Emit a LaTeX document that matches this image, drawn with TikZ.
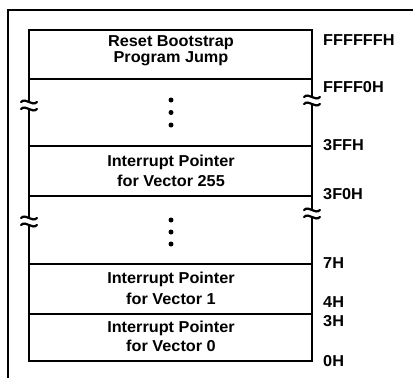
\documentclass[tikz,border=0pt]{standalone}
\usepackage{fontspec}
\setmainfont{Liberation Sans}
\newfontfamily\memfont{Liberation Sans}[FakeStretch=1.03]
\begin{document}
\begin{tikzpicture}[x=1pt,y=-1pt,
  frame/.style={line width=2pt},
  divider/.style={line width=1.6pt},
  celltext/.style={font=\memfont\bfseries\fontsize{15.8}{16.5}\selectfont,align=center,inner sep=0pt},
  addr/.style={font=\memfont\bfseries\fontsize{15.8}{18}\selectfont,anchor=west,inner sep=0pt},
  dotmark/.style={fill=black,circle,inner sep=0pt,minimum size=5pt},
  brk/.pic={
    \fill[white] (-3,-3) rectangle (3,3);
    \draw[line width=2.2pt,line cap=round] (-8,-3) .. controls (-3,-8) and (3,2) .. (8,-3);
    \draw[line width=2.2pt,line cap=round] (-8,4) .. controls (-3,-1) and (3,9) .. (8,4);
  }]
\useasboundingbox (0,0) rectangle (413,378);

% outer frame (top and left edges)
\draw[frame] (8,378) -- (8,10) -- (413,10);

% memory map column
\draw[frame] (29,30) rectangle (312,361);
\foreach \yy in {79,146,196,264,314}
  \draw[divider] (29,\yy) -- (312,\yy);

% breaks in the address range
\pic at (29,105) {brk};
\pic at (312,100) {brk};
\pic at (29,221) {brk};
\pic at (312,213) {brk};

% cell contents
\node[celltext] (reset) at (171,50.5) {Reset Bootstrap\\Program Jump};
\node[celltext,font=\memfont\bfseries\fontsize{15.8}{20}\selectfont] (v255) at (171,171) {Interrupt Pointer\\for Vector 255};
\node[celltext,font=\memfont\bfseries\fontsize{15.8}{20.5}\selectfont] (v1) at (171,288.5) {Interrupt Pointer\\for Vector 1};
\node[celltext,font=\memfont\bfseries\fontsize{15.8}{19.5}\selectfont] (v0) at (171,336.5) {Interrupt Pointer\\for Vector 0};

\node[dotmark] (d1) at (171,100) {};
\node[dotmark] (d2) at (171,112.5) {};
\node[dotmark] (d3) at (171,125) {};
\node[dotmark] (d4) at (171,220) {};
\node[dotmark] (d5) at (171,232) {};
\node[dotmark] (d6) at (171,244) {};

% addresses
\node[addr] (a1) at (323,40) {FFFFFFH};
\node[addr] (a2) at (323,87) {FFFF0H};
\node[addr] (a3) at (323,145) {3FFH};
\node[addr] (a4) at (323,194) {3F0H};
\node[addr] (a5) at (323,263) {7H};
\node[addr] (a6) at (323,302) {4H};
\node[addr] (a7) at (323,321) {3H};
\node[addr] (a8) at (323,361) {0H};
\end{tikzpicture}
\end{document}
